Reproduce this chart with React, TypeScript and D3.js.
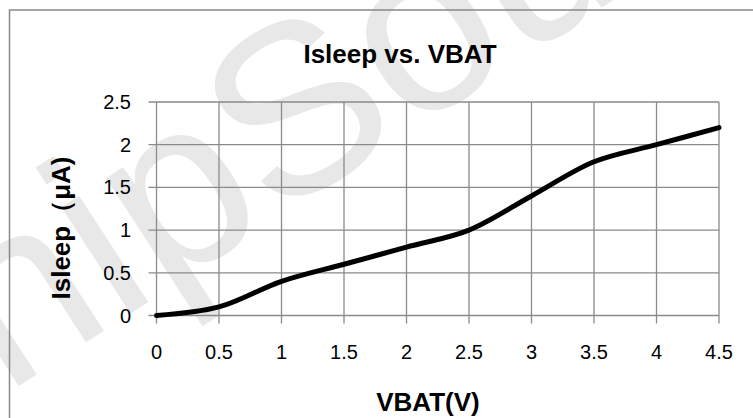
import { line, curveCatmullRom, scaleLinear } from 'd3';

const vbat = [0, 0.5, 1, 1.5, 2, 2.5, 3, 3.5, 4, 4.5];
const isleep = [0, 0.1, 0.4, 0.6, 0.8, 1.0, 1.4, 1.8, 2.0, 2.2];
const xTicks = [0, 0.5, 1, 1.5, 2, 2.5, 3, 3.5, 4, 4.5];
const yTicks = [0, 0.5, 1, 1.5, 2, 2.5];

const width = 753;
const height = 418;
const font = '"Liberation Sans", Arial, sans-serif';
const gridColor = '#8a8a8a';

export default function App() {
  const x = scaleLinear().domain([0, 4.5]).range([156.5, 719]);
  const y = scaleLinear().domain([0, 2.5]).range([315.5, 102]);

  const path = line<number>()
    .x((d, i) => x(vbat[i]))
    .y((d) => y(d))
    .curve(curveCatmullRom.alpha(0.5));

  return (
    <svg
      width={width}
      height={height}
      style={{ position: 'absolute', left: 0, top: 0, background: '#fff' }}
    >
      {/* watermark */}
      <text
        transform="translate(5,395) rotate(-33)"
        fontFamily={font}
        fontSize={240}
        fill="#e8e8e8"
      >
        hipSou
      </text>

      <rect x={9.5} y={10} width={800} height={500} fill="none" stroke="#888" strokeWidth={1.5} />

      <text x={400} y={63} textAnchor="middle" fontFamily={font} fontWeight="bold" fontSize={26}>
        Isleep vs. VBAT
      </text>

      {/* grid */}
      {xTicks.map((t) => (
        <line
          key={'vx' + t}
          x1={x(t)}
          x2={x(t)}
          y1={y(2.5)}
          y2={y(0) + 8}
          stroke={gridColor}
          strokeWidth={1.3}
        />
      ))}
      {yTicks.map((t) => (
        <line
          key={'hy' + t}
          x1={x(0) - 8}
          x2={x(4.5)}
          y1={y(t)}
          y2={y(t)}
          stroke={gridColor}
          strokeWidth={1.3}
        />
      ))}

      {xTicks.map((t) => (
        <text key={'xl' + t} x={x(t)} y={358.5} textAnchor="middle" fontFamily={font} fontSize={20}>
          {t}
        </text>
      ))}
      {yTicks.map((t) => (
        <text
          key={'yl' + t}
          x={131}
          y={y(t)}
          dy="0.35em"
          textAnchor="end"
          fontFamily={font}
          fontSize={20}
        >
          {t}
        </text>
      ))}

      <path
        d={path(isleep) ?? ''}
        fill="none"
        stroke="#000"
        strokeWidth={5}
        strokeLinecap="round"
        strokeLinejoin="round"
      />

      <text
        transform="translate(70,228) rotate(-90)"
        textAnchor="middle"
        fontFamily={font}
        fontWeight="bold"
        fontSize={26}
      >
        Isleep（μA)
      </text>
      <text x={428} y={411} textAnchor="middle" fontFamily={font} fontWeight="bold" fontSize={26}>
        VBAT(V)
      </text>
    </svg>
  );
}
